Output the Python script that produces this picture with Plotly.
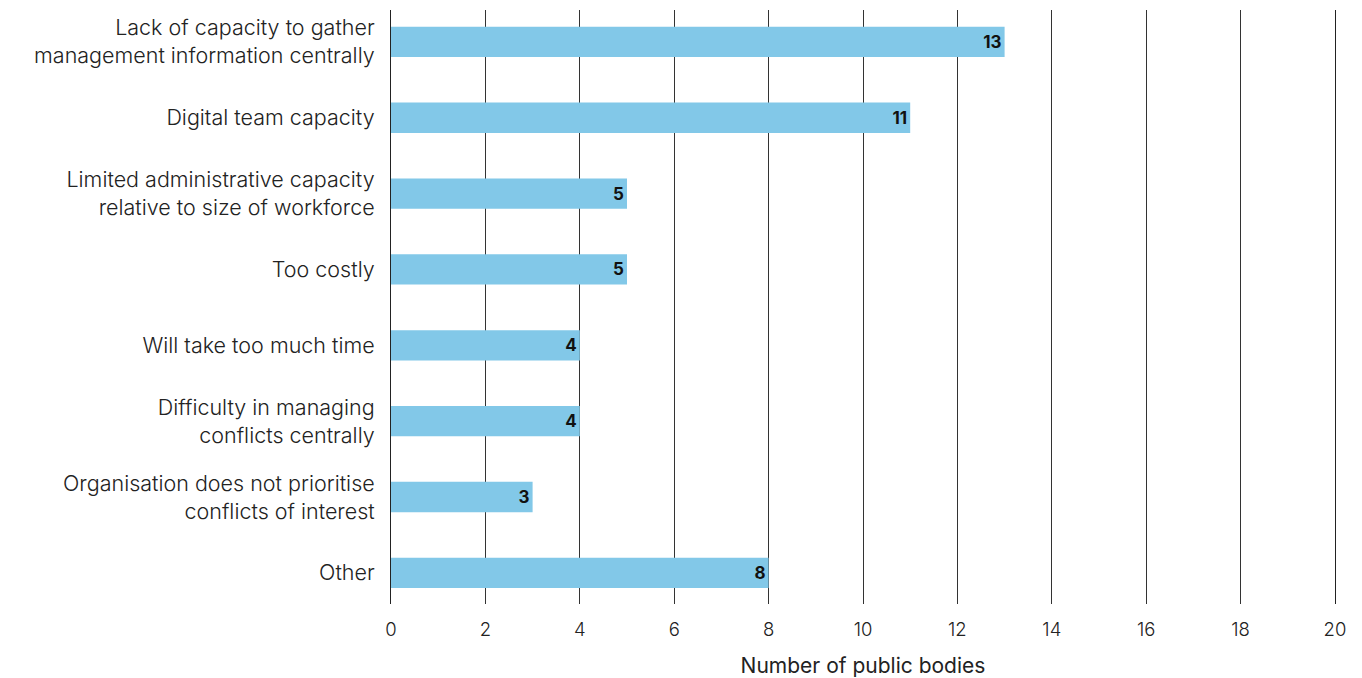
import plotly.graph_objects as go

categories = [
    "Lack of capacity to gather<br>management information centrally",
    "Digital team capacity",
    "Limited administrative capacity<br>relative to size of workforce",
    "Too costly",
    "Will take too much time",
    "Difficulty in managing<br>conflicts centrally",
    "Organisation does not prioritise<br>conflicts of interest",
    "Other",
]
values = [13, 11, 5, 5, 4, 4, 3, 8]
x_ticks = [0, 2, 4, 6, 8, 10, 12, 14, 16, 18, 20]

FONT = "Inter"

fig = go.Figure(
    go.Bar(
        y=categories,
        x=values,
        orientation="h",
        width=0.4,
        marker=dict(color="#82c8e8", line=dict(width=0)),
        text=[str(v) for v in values],
        textposition="inside",
        insidetextanchor="end",
        textfont=dict(family=FONT, size=17, color="#111111", weight="bold"),
        cliponaxis=False,
    )
)

fig.update_layout(
    width=1362,
    height=678,
    margin=dict(l=391, r=27, t=10, b=74),
    paper_bgcolor="white",
    plot_bgcolor="white",
    showlegend=False,
    font=dict(family=FONT, size=21, color="#222222", weight=300),
    uniformtext=dict(mode="show", minsize=10),
    bargap=0.6,
)

fig.update_xaxes(
    range=[0, 20],
    automargin=False,
    tickvals=x_ticks,
    ticktext=[str(t) for t in x_ticks],
    showgrid=True,
    gridcolor="#333333",
    gridwidth=1,
    zeroline=False,
    showline=False,
    ticks="",
    ticklabelstandoff=12,
    tickfont=dict(size=18.5, family=FONT, weight=300),
    title=dict(text="Number of public bodies", font=dict(size=21, family=FONT, weight=400), standoff=19),
)

fig.update_yaxes(
    categoryorder="array",
    categoryarray=categories,
    range=[7.41, -0.42],
    automargin=False,
    showgrid=False,
    showline=True,
    mirror=True,
    linecolor="#222222",
    linewidth=1,
    ticks="",
    ticklabelstandoff=11,
    tickfont=dict(size=21.5, family=FONT, weight=300),
)

fig.write_html("out.html")
